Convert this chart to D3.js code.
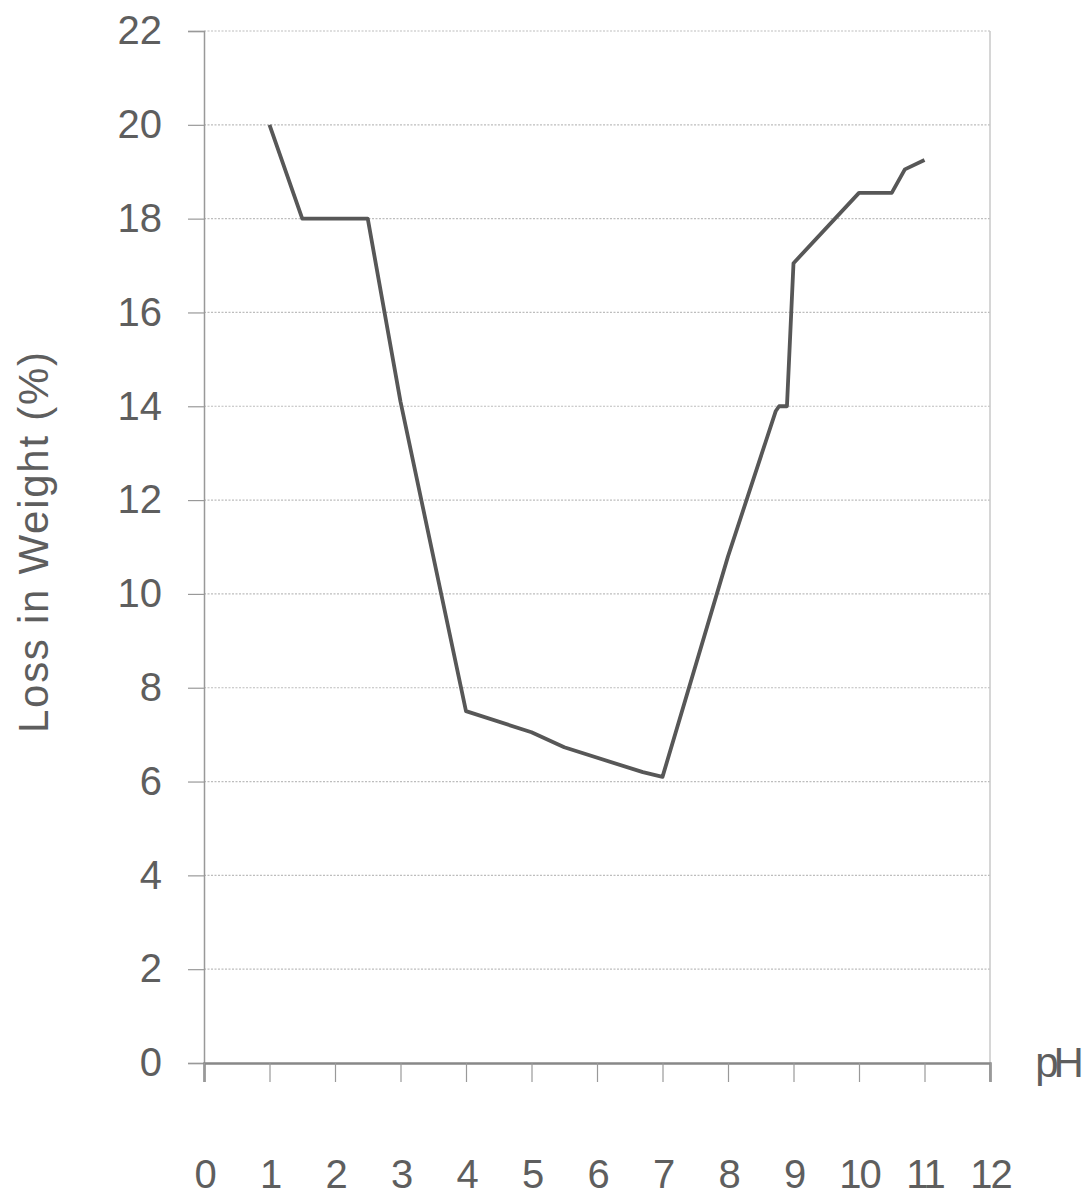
<!DOCTYPE html>
<html>
<head>
<meta charset="utf-8">
<script src="https://cdn.jsdelivr.net/npm/d3@7"></script>
<style>
  html, body { margin: 0; padding: 0; background: #fff; }
  svg text { font-family: "Liberation Sans", Arial, sans-serif; fill: #5e5e5e; }
</style>
</head>
<body>
<svg id="chart" width="1087" height="1200"></svg>
<script>
const phValues   = [1, 1.5, 2.5, 3, 4, 5, 5.5, 6.7, 7, 8, 8.73, 8.78, 8.9, 9, 10, 10.5, 10.7, 11];
const lossValues = [20, 18, 18, 14.1, 7.5, 7.05, 6.73, 6.2, 6.1, 10.8, 13.9, 14.0, 14.0, 17.05, 18.55, 18.55, 19.05, 19.25];
const xTicks = [0, 1, 2, 3, 4, 5, 6, 7, 8, 9, 10, 11, 12];
const yTicks = [0, 2, 4, 6, 8, 10, 12, 14, 16, 18, 20, 22];
const xTitle = "pH";
const yTitle = "Loss in Weight (%)";

const data = phValues.map((x, i) => ({ x, y: lossValues[i] }));

const svg = d3.select("#chart");
const pLeft = 204, pRight = 990, pTop = 31, pBottom = 1063;

const x = d3.scaleLinear().domain([0, 12]).range([pLeft, pRight]);
const y = d3.scaleLinear().domain([0, 22]).range([pBottom, pTop]);

// gridlines
svg.append("g").selectAll("line").data(yTicks.filter(d => d > 0)).join("line")
  .attr("x1", pLeft).attr("x2", pRight)
  .attr("y1", d => y(d)).attr("y2", d => y(d))
  .attr("stroke", "#bdbdbd").attr("stroke-width", 1.2)
  .attr("stroke-dasharray", "2,1.5");

// right border
svg.append("line").attr("x1", pRight).attr("x2", pRight).attr("y1", pTop).attr("y2", pBottom + 18)
  .attr("stroke", "#c8c8c8").attr("stroke-width", 1.5);

// y axis
const yAxis = d3.axisLeft(y).tickValues(yTicks).tickSize(16).tickPadding(26).tickFormat(d3.format("d"));
const gy = svg.append("g").attr("transform", `translate(${pLeft},0)`).call(yAxis);
gy.select(".domain").attr("stroke", "#999").attr("stroke-width", 1.5);
gy.selectAll(".tick line").attr("stroke", "#999").attr("stroke-width", 1.2);
gy.selectAll(".tick text").attr("font-size", 40).attr("fill", "#5e5e5e")
  .style("font-family", "'Liberation Sans', Arial, sans-serif");

// x axis ticks (labels placed far below)
const xAxis = d3.axisBottom(x).tickValues(xTicks).tickSize(19).tickPadding(78).tickFormat(d3.format("d"));
const gx = svg.append("g").attr("transform", `translate(0,${pBottom})`).call(xAxis);
gx.select(".domain").attr("stroke", "#888").attr("stroke-width", 2.5);
gx.selectAll(".tick line").attr("stroke", "#999").attr("stroke-width", 1.2);
gx.selectAll(".tick text").attr("font-size", 40).attr("fill", "#5e5e5e")
  .attr("letter-spacing", -2)
  .style("font-family", "'Liberation Sans', Arial, sans-serif");

// line
const line = d3.line().x(d => x(d.x)).y(d => y(d.y));
svg.append("path").datum(data)
  .attr("d", line)
  .attr("fill", "none")
  .attr("stroke", "#575757")
  .attr("stroke-width", 3.8)
  .attr("stroke-linejoin", "round");

// axis titles
svg.append("text")
  .attr("x", 1057).attr("y", 1077)
  .attr("text-anchor", "middle")
  .attr("font-size", 42)
  .attr("letter-spacing", -5)
  .text(xTitle);

svg.append("text")
  .attr("transform", `translate(48,${(352 + 733) / 2}) rotate(-90)`)
  .attr("text-anchor", "middle")
  .attr("font-size", 42)
  .attr("textLength", 381)
  .text(yTitle);
</script>
</body>
</html>
